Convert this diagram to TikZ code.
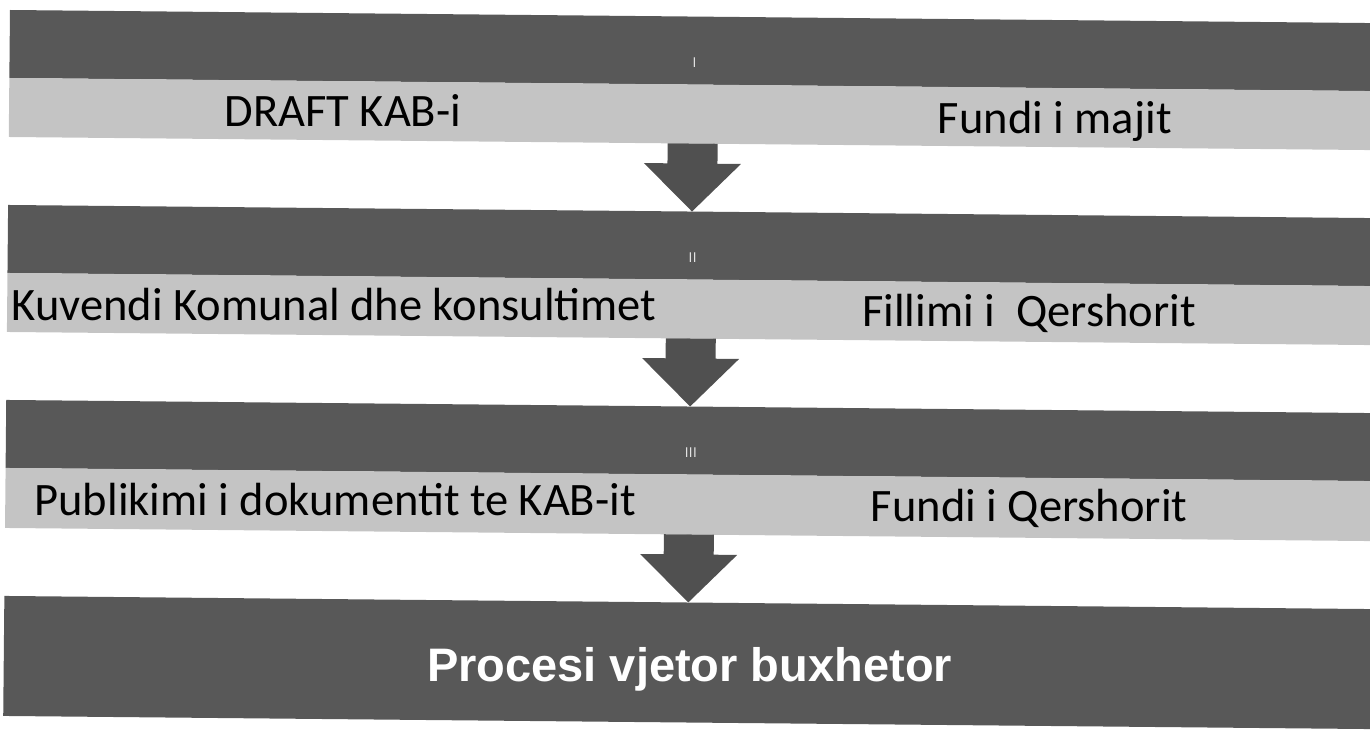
\documentclass[tikz,border=0pt]{standalone}
\usepackage{fontspec}
\setmainfont{Carlito}
\newfontfamily\headfont{Liberation Sans}
\usetikzlibrary{calc}
\definecolor{bandgray}{RGB}{88,88,88}
\definecolor{stripgray}{RGB}{196,196,196}
\definecolor{arrowgray}{RGB}{80,80,80}
\definecolor{numgray}{RGB}{230,230,230}
\begin{document}
\begin{tikzpicture}[x=1pt,y=-1pt,
  band/.style={fill=bandgray},
  strip/.style={fill=stripgray},
  steptext/.style={font=\fontsize{46.5}{55}\selectfont, text=black, inner sep=0pt, anchor=base},
  numeral/.style={font=\sffamily\fontsize{14}{16}\selectfont, text=numgray, inner sep=0pt},
  flowarrow/.style={fill=arrowgray, draw=none}]
\useasboundingbox (0,0) rectangle (1370,730);
\clip (0,0) rectangle (1370,730);
\begin{scope}[rotate around={-0.55:(10,10)}]
% bands
\fill[band]  (10,10)  rectangle (1400,78);
\fill[strip] (10,78)  rectangle (1400,137);
\fill[band]  (10,205) rectangle (1400,273);
\fill[strip] (10,273) rectangle (1400,332);
\fill[band]  (10,400) rectangle (1400,468);
\fill[strip] (10,468) rectangle (1400,528);
\fill[band]  (10,596) rectangle (1400,716);
% anchor coordinates for arrows
\coordinate (s1) at (694,137);
\coordinate (b2) at (694,205);
\coordinate (s2) at (694,332);
\coordinate (b3) at (694,400);
\coordinate (s3) at (694,528);
\coordinate (b4) at (694,596);
% numerals
\node[numeral] (n1) at (695,56) {I};
\node[numeral] (n2) at (695,251) {II};
\node[numeral] (n3) at (695,446) {III};
% texts
\node[steptext] (t1l) at (344,123) {DRAFT KAB-i};
\node[steptext] (t1r) at (1056,123) {Fundi i majit};
\node[steptext] (t2l) at (337,317) {Kuvendi Komunal dhe konsultimet};
\node[steptext] (t2r) at (1032,317) {Fillimi i\ \ Qershorit};
\node[steptext] (t3l) at (340,512) {Publikimi i dokumentit te KAB-it};
\node[steptext] (t3r) at (1034,512) {Fundi i Qershorit};
\node[font=\headfont\bfseries\fontsize{47}{56}\selectfont, text=white, inner sep=0pt, anchor=base] (t4) at (696,675) {Procesi vjetor buxhetor};
% arrows
\foreach \s/\b in {s1/b2, s2/b3, s3/b4}{
  \fill[flowarrow] ($(\s)+(-25,0)$) -- ($(\s)+(25,0)$) -- ($(\b)+(25,-48)$) -- ($(\b)+(48.5,-48)$)
    -- (\b) -- ($(\b)+(-48.5,-48)$) -- ($(\b)+(-25,-48)$) -- cycle;
}
\end{scope}
\end{tikzpicture}
\end{document}
